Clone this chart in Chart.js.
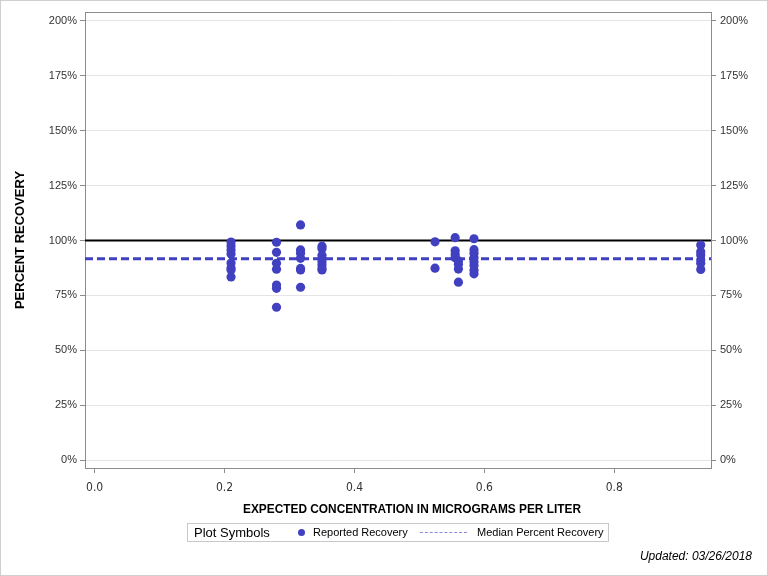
<!DOCTYPE html>
<html>
<head>
<meta charset="utf-8">
<script src="https://cdn.jsdelivr.net/npm/chart.js@4.4.0/dist/chart.umd.min.js"></script>
<style>
  html, body { margin: 0; padding: 0; background: #fff; }
  #wrap { position: relative; width: 768px; height: 576px; overflow: hidden; }
  #c { position: absolute; left: 0; top: 0; }
  #frame { position: absolute; left: 0; top: 0; width: 768px; height: 576px; box-sizing: border-box; border: 1px solid #cfcfcf; pointer-events: none; }
  #xtitle { position: absolute; left: 412px; top: 501px; font-family: "Liberation Sans", Arial, sans-serif; font-size: 13px; font-weight: bold; color: #000; white-space: nowrap; line-height: 15px; transform-origin: 0 0; }
  #legend { position: absolute; left: 187px; top: 523px; width: 422px; height: 19px; box-sizing: border-box; border: 1px solid #c8c8c8; font-family: "Liberation Sans", Arial, sans-serif; color: #000; }
  #legend span { position: absolute; white-space: nowrap; }
  #lg-title { left: 6px; top: 1px; font-size: 13px; }
  #lg-dot { left: 110px; top: 5px; width: 7px; height: 7px; border-radius: 50%; background: #4040c0; }
  #lg-t1 { left: 125px; top: 2px; font-size: 11px; }
  #lg-dash { left: 232px; top: 8px; width: 47px; height: 0; border-top: 1px dashed #8c8cdc; }
  #lg-t2 { left: 289px; top: 2px; font-size: 11px; }
  #updated { position: absolute; right: 16px; top: 549px; font-family: "Liberation Sans", Arial, sans-serif; font-style: italic; font-size: 12px; color: #000; }
</style>
</head>
<body>
<div id="wrap">
  <canvas id="c" width="768" height="576"></canvas>
  <div id="xtitle">EXPECTED CONCENTRATION IN MICROGRAMS PER LITER</div>
  <div id="legend">
    <span id="lg-title">Plot Symbols</span>
    <span id="lg-dot"></span>
    <span id="lg-t1">Reported Recovery</span>
    <span id="lg-dash"></span>
    <span id="lg-t2">Median Percent Recovery</span>
  </div>
  <div id="updated">Updated: 03/26/2018</div>
  <div id="frame"></div>
</div>
<script>
// ---- Data ----
const concentration = [
  0.21, 0.21, 0.21, 0.21, 0.21, 0.21, 0.21, 0.21,
  0.28, 0.28, 0.28, 0.28, 0.28, 0.28, 0.28,
  0.317, 0.317, 0.317, 0.317, 0.317, 0.317, 0.317,
  0.35, 0.35, 0.35, 0.35, 0.35, 0.35, 0.35, 0.35,
  0.524, 0.524,
  0.555, 0.555, 0.555, 0.555, 0.56, 0.56, 0.56, 0.56,
  0.584, 0.584, 0.584, 0.584, 0.584, 0.584, 0.584, 0.584,
  0.933, 0.933, 0.933, 0.933, 0.933, 0.933
];
const recovery = [
  99.3, 97.5, 95.7, 93.8, 89.7, 87.5, 86.6, 83.4,
  99.2, 94.6, 89.6, 86.9, 79.7, 78.2, 69.6,
  107.1, 95.7, 94.2, 91.9, 87.3, 86.6, 78.7,
  97.4, 96.2, 93.3, 91.8, 90.3, 88.8, 87.3, 86.6,
  99.4, 87.4,
  101.3, 95.3, 93.6, 92.2, 90.7, 89.2, 87.0, 81.0,
  100.8, 95.8, 94.2, 92.2, 90.3, 88.6, 86.5, 84.8,
  97.9, 94.9, 93.4, 91.1, 89.6, 86.8
];
const referenceRecovery = 100;
const medianRecovery = 91.7;
const xTickValues = [0.0, 0.2, 0.4, 0.6, 0.8];
const yTickValues = [0, 25, 50, 75, 100, 125, 150, 175, 200];
const xRange = [-0.0148, 0.9488];
const yRange = [-3.64, 204.1];

// ---- x-axis title: condensed to the reference width ----
(function () {
  const el = document.getElementById('xtitle');
  const w = el.getBoundingClientRect().width;
  const target = 338;
  const s = target / w;
  el.style.transform = 'translateX(' + (-target / 2) + 'px) scaleX(' + s + ')';
})();

// ---- Chart ----
const points = concentration.map((c, i) => ({ x: c, y: recovery[i] }));
const axisColor = '#8c8c8c';
const tickFont = { family: '"Liberation Sans", Arial, sans-serif', size: 11 };
const narrowFont = { family: '"Liberation Sans Narrow", "DejaVu Sans Condensed", "Liberation Sans", sans-serif', size: 12 };

const boxPlugin = {
  id: 'box',
  beforeDatasetsDraw(chart) {
    const { ctx, chartArea: a } = chart;
    ctx.save();
    ctx.strokeStyle = axisColor;
    ctx.lineWidth = 1;
    ctx.strokeRect(Math.round(a.left) + 0.5, Math.round(a.top) + 0.5, Math.round(a.right - a.left), Math.round(a.bottom - a.top));
    ctx.restore();
  }
};

function yScaleBase(extra) {
  return Object.assign({
    type: 'linear',
    min: yRange[0],
    max: yRange[1],
    afterBuildTicks: s => { s.ticks = yTickValues.map(v => ({ value: v })); },
    ticks: { callback: v => v + '%', font: tickFont, color: '#333', padding: 3, autoSkip: false },
    border: { color: axisColor }
  }, extra);
}

new Chart(document.getElementById('c'), {
  data: {
    datasets: [
      {
        type: 'scatter',
        label: 'Reported Recovery',
        data: points,
        backgroundColor: '#4040c0',
        borderColor: '#4040c0',
        pointRadius: 4.6,
        pointBorderWidth: 0,
        order: 0
      },
      {
        type: 'line',
        label: 'Median Percent Recovery',
        data: xRange.map(x => ({ x: x, y: medianRecovery })),
        borderColor: '#4040c0',
        borderWidth: 3,
        borderDash: [8, 4],
        pointRadius: 0,
        order: 1
      },
      {
        type: 'line',
        label: 'Reference',
        data: xRange.map(x => ({ x: x, y: referenceRecovery })),
        borderColor: '#000',
        borderWidth: 2,
        pointRadius: 0,
        order: 2
      }
    ]
  },
  options: {
    responsive: false,
    animation: false,
    layout: { padding: { top: 12, left: 0, right: 0, bottom: 0 } },
    plugins: { legend: { display: false }, tooltip: { enabled: false } },
    scales: {
      x: {
        type: 'linear',
        position: 'bottom',
        min: xRange[0],
        max: xRange[1],
        afterBuildTicks: s => { s.ticks = xTickValues.map(v => ({ value: v })); },
        afterFit: s => { s.height = 108; },
        ticks: { callback: v => Number(v).toFixed(1), font: narrowFont, color: '#333', padding: 8, maxRotation: 0, autoSkip: false },
        grid: { drawOnChartArea: false, tickLength: 5, color: axisColor },
        border: { color: axisColor }
      },
      y: yScaleBase({
        position: 'left',
        afterFit: s => { s.width = 85; },
        grid: { color: '#e4e4e4', tickColor: axisColor, tickLength: 5 },
        title: {
          display: true,
          text: 'PERCENT RECOVERY',
          font: { family: '"Liberation Sans", Arial, sans-serif', size: 13, weight: 'bold' },
          color: '#000',
          padding: { top: 13, bottom: 0 }
        }
      }),
      y2: yScaleBase({
        position: 'right',
        afterFit: s => { s.width = 57; },
        grid: { drawOnChartArea: false, color: axisColor, tickLength: 5 },
        ticks: { callback: v => v + '%', font: tickFont, color: '#333', padding: 4, autoSkip: false }
      })
    }
  },
  plugins: [boxPlugin]
});
</script>
</body>
</html>
